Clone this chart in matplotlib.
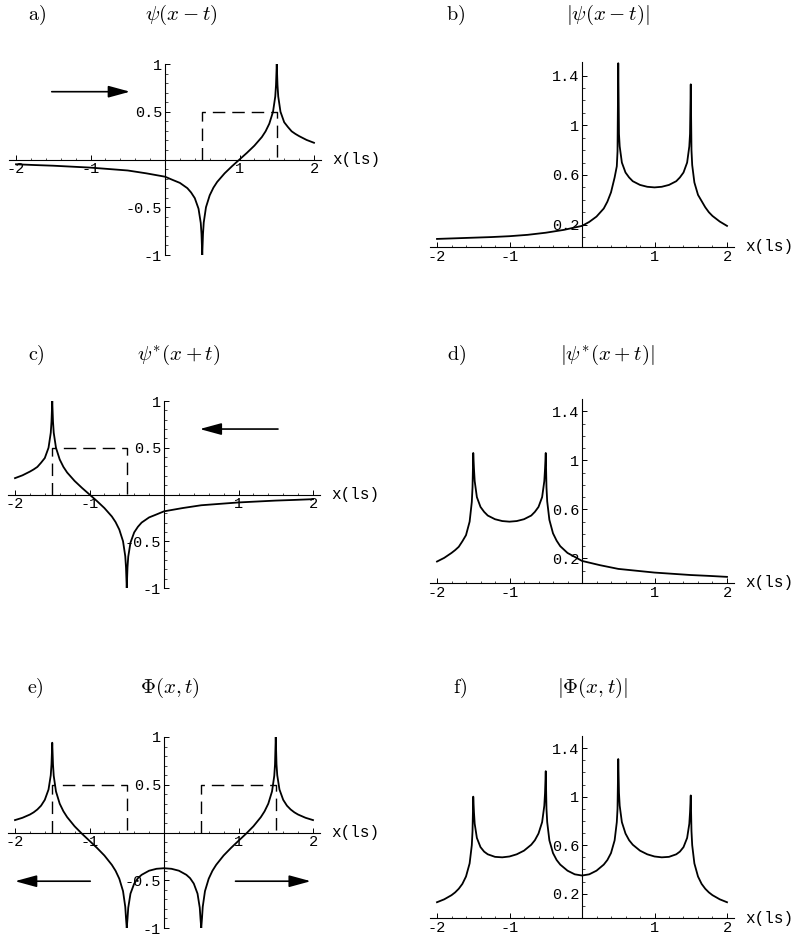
import numpy as np
import matplotlib
matplotlib.use('Agg')
import matplotlib.pyplot as plt
import matplotlib.transforms as mtransforms

plt.rcParams['font.family'] = ['Liberation Mono', 'DejaVu Sans Mono']
plt.rcParams['mathtext.fontset'] = 'cm'

# a) psi(x-t), real part
x_a = [-2.0, -1.75, -1.5, -1.25, -1.0, -0.75, -0.5, -0.25, 0.0, 0.1, 0.2, 0.3, 0.35, 0.4,
       0.45, 0.48, 0.49, 0.5, 0.51, 0.52, 0.55, 0.6, 0.65, 0.7, 0.8, 0.9, 1.0, 1.1, 1.2,
       1.3, 1.35, 1.4, 1.45, 1.48, 1.49, 1.5, 1.51, 1.52, 1.55, 1.6, 1.65, 1.7, 1.75, 1.8,
       1.9, 2.0]
y_a = [-0.05, -0.058, -0.065, -0.075, -0.085, -0.10, -0.115, -0.145, -0.18, -0.213,
       -0.245, -0.3, -0.345, -0.405, -0.515, -0.665, -0.78, -1.0, -0.78, -0.66,
       -0.5, -0.375, -0.295, -0.235, -0.145, -0.07, 0.0, 0.07, 0.145, 0.235,
       0.295, 0.375, 0.5, 0.66, 0.78, 1.0, 0.78, 0.66, 0.5, 0.39,
       0.34, 0.295, 0.268, 0.245, 0.205, 0.175]

# b) |psi(x-t)|, same x as a)
y_b = [0.085, 0.09, 0.095, 0.10, 0.107, 0.118, 0.135, 0.158, 0.19, 0.222,
       0.265, 0.33, 0.385, 0.46, 0.58, 0.67, 0.79, 1.5, 0.93, 0.83,
       0.7, 0.62, 0.58, 0.55, 0.52, 0.505, 0.5, 0.505, 0.52, 0.55,
       0.58, 0.62, 0.7, 0.83, 0.93, 1.33, 0.8, 0.68, 0.54, 0.44,
       0.39, 0.34, 0.30, 0.27, 0.225, 0.19]

# c) psi*(x+t)
x_c = [-2.0, -1.9, -1.8, -1.75, -1.7, -1.65, -1.6, -1.55, -1.52, -1.51, -1.5, -1.49,
       -1.48, -1.45, -1.4, -1.35, -1.3, -1.2, -1.1, -1.0, -0.9, -0.8, -0.7, -0.65,
       -0.6, -0.55, -0.52, -0.51, -0.5, -0.49, -0.48, -0.45, -0.4, -0.35, -0.3, -0.2,
       -0.1, 0.0, 0.25, 0.5, 0.75, 1.0, 1.25, 1.5, 1.75, 2.0]
y_c = [0.175, 0.205, 0.245, 0.268, 0.295, 0.34, 0.39, 0.5, 0.66, 0.78, 1.0, 0.78,
       0.66, 0.5, 0.375, 0.295, 0.235, 0.145, 0.07, 0.0, -0.07, -0.145, -0.235, -0.295,
       -0.375, -0.5, -0.66, -0.78, -1.0, -0.78, -0.665, -0.515, -0.405, -0.345, -0.3, -0.245,
       -0.213, -0.18, -0.145, -0.115, -0.1, -0.085, -0.075, -0.065, -0.058, -0.05]

# d) |psi*(x+t)|, same x as c)
y_d = [0.175, 0.205, 0.245, 0.268, 0.295, 0.34, 0.39, 0.5, 0.66, 0.78, 1.06, 0.93,
       0.83, 0.7, 0.62, 0.58, 0.55, 0.52, 0.505, 0.5, 0.505, 0.52, 0.55, 0.58,
       0.62, 0.7, 0.83, 0.93, 1.06, 0.78, 0.665, 0.515, 0.405, 0.345, 0.3, 0.245,
       0.213, 0.18, 0.145, 0.115, 0.1, 0.085, 0.075, 0.065, 0.058, 0.05]

# e) Phi(x,t)
x_e = [-2.0, -1.9, -1.8, -1.75, -1.7, -1.65, -1.6, -1.55, -1.52, -1.51, -1.5, -1.49,
       -1.48, -1.45, -1.4, -1.35, -1.3, -1.2, -1.1, -1.0, -0.9, -0.8, -0.7, -0.65,
       -0.6, -0.55, -0.52, -0.51, -0.5, -0.49, -0.48, -0.45, -0.4, -0.35, -0.3, -0.2,
       -0.1, 0.0,
       0.1, 0.2, 0.3, 0.35, 0.4, 0.45, 0.48, 0.49, 0.5, 0.51, 0.52, 0.55,
       0.6, 0.65, 0.7, 0.8, 0.9, 1.0, 1.1, 1.2, 1.3, 1.35, 1.4, 1.45,
       1.48, 1.49, 1.5, 1.51, 1.52, 1.55, 1.6, 1.65, 1.7, 1.75, 1.8, 1.9, 2.0]
y_e = [0.13, 0.154, 0.188, 0.211, 0.241, 0.281, 0.342, 0.45, 0.6, 0.716, 0.94, 0.712,
       0.593, 0.43, 0.302, 0.222, 0.161, 0.065, -0.014, -0.087, -0.161, -0.241, -0.339, -0.401,
       -0.484, -0.614, -0.778, -0.898, -1.0, -0.904, -0.788, -0.64, -0.535, -0.478, -0.443, -0.40,
       -0.38, -0.374,
       -0.38, -0.40, -0.443, -0.478, -0.535, -0.64, -0.788, -0.904, -1.0, -0.898, -0.778, -0.614,
       -0.484, -0.401, -0.339, -0.241, -0.161, -0.087, -0.014, 0.065, 0.161, 0.222, 0.302, 0.43,
       0.593, 0.712, 1.0, 0.716, 0.6, 0.45, 0.342, 0.281, 0.241, 0.211, 0.188, 0.154, 0.13]

# f) |Phi(x,t)|, same x as e)
y_f = [0.13, 0.154, 0.188, 0.211, 0.241, 0.281, 0.342, 0.45, 0.6, 0.716, 1.0, 0.87,
       0.776, 0.66, 0.584, 0.547, 0.525, 0.504, 0.5, 0.507, 0.525, 0.555, 0.604, 0.641,
       0.696, 0.79, 0.925, 1.03, 1.21, 0.9, 0.79, 0.64, 0.535, 0.478, 0.44, 0.39,
       0.36, 0.35,
       0.36, 0.39, 0.44, 0.478, 0.535, 0.64, 0.79, 0.9, 1.31, 1.03, 0.925, 0.79,
       0.696, 0.641, 0.604, 0.555, 0.525, 0.507, 0.5, 0.504, 0.525, 0.547, 0.584, 0.66,
       0.776, 0.87, 1.01, 0.716, 0.6, 0.45, 0.342, 0.281, 0.241, 0.211, 0.188, 0.154, 0.13]

# imaginary part (dashed boxes)
im_right_x = [0.5, 0.5, 1.5, 1.5]
im_left_x = [-1.5, -1.5, -0.5, -0.5]
im_y = [0.0, 0.5, 0.5, 0.0]

xticks = [-2, -1, 1, 2]
xtick_labels = ['-2', '-1', '1', '2']
yticks_re = [-1, -0.5, 0.5, 1]
yticks_re_labels = ['-1', '-0.5', '0.5', '1']
yticks_abs = [0.2, 0.6, 1.0, 1.4]
yticks_abs_labels = ['0.2', '0.6', '1', '1.4']

W, H = 797, 938
fig = plt.figure(figsize=(W / 100, H / 100), dpi=100)


def make_axes(x0, unit, top, bottom, ylim, real=True):
    left = x0 - 2.1 * unit
    right = x0 + 2.1 * unit
    ax = fig.add_axes([left / W, 1 - bottom / H, (right - left) / W, (bottom - top) / H])
    ax.set_xlim(-2.1, 2.1)
    ax.set_ylim(*ylim)
    ax.patch.set_visible(False)
    for s in ['top', 'right']:
        ax.spines[s].set_visible(False)
    ax.spines['left'].set_position(('data', 0))
    ax.spines['bottom'].set_position(('data', 0 if real else ylim[0]))
    for s in ['left', 'bottom']:
        ax.spines[s].set_linewidth(0.8)
    ax.set_xticks(xticks)
    ax.set_xticklabels(xtick_labels)
    ax.set_xticks(np.arange(-2, 2.01, 0.2), minor=True)
    if real:
        ax.set_yticks(yticks_re)
        ax.set_yticklabels(yticks_re_labels)
        ax.set_yticks(np.arange(-1, 1.01, 0.1), minor=True)
    else:
        ax.set_yticks(yticks_abs)
        ax.set_yticklabels(yticks_abs_labels)
        ax.set_yticks(np.arange(0.1, 1.45, 0.1), minor=True)
    ax.tick_params(which='major', direction='in', length=3.5, width=0.7, labelsize=11, pad=2)
    ax.tick_params(which='minor', direction='in', length=1.8, width=0.5)
    trans = mtransforms.blended_transform_factory(ax.transAxes, ax.transData)
    ax.text(1.035, 0 if real else ylim[0], 'x(ls)', transform=trans,
            va='center', ha='left', fontsize=11.5)
    return ax


def arrow(ax, tail, head):
    ax.annotate('', xy=head, xytext=tail,
                arrowprops=dict(arrowstyle='-|>,head_length=1.1,head_width=0.3',
                                color='black', lw=1.2, mutation_scale=12,
                                shrinkA=0, shrinkB=0))


line_kw = dict(color='black', lw=1.3)
dash_kw = dict(color='black', lw=1.0, linestyle=(0, (9, 5)))

# a)
ax = make_axes(165, 74.5, 64, 255, (-1, 1))
ax.plot(x_a, y_a, **line_kw)
ax.plot(im_right_x, im_y, **dash_kw)
arrow(ax, (-1.52, 0.71), (-0.47, 0.71))

# b)
ax = make_axes(582, 72.5, 62, 247, (0.02, 1.51), real=False)
ax.plot(x_a, y_b, **line_kw)

# c)
ax = make_axes(164, 74.5, 401, 588, (-1, 1))
ax.plot(x_c, y_c, **line_kw)
ax.plot(im_left_x, im_y, **dash_kw)
arrow(ax, (1.53, 0.70), (0.48, 0.70))

# d)
ax = make_axes(582, 72.5, 399, 583, (0, 1.5), real=False)
ax.plot(x_c, y_d, **line_kw)

# e)
ax = make_axes(164, 74.5, 737, 928, (-1, 1))
ax.plot(x_e, y_e, **line_kw)
ax.plot(im_left_x, im_y, **dash_kw)
ax.plot(im_right_x, im_y, **dash_kw)
arrow(ax, (-0.99, -0.51), (-2.0, -0.51))
arrow(ax, (0.96, -0.51), (1.97, -0.51))

# f)
ax = make_axes(582, 72.5, 736, 918, (0, 1.5), real=False)
ax.plot(x_e, y_f, **line_kw)

# panel letters and titles
letters = [(37, 15, 'a'), (456, 15, 'b'), (36, 355, 'c'), (457, 355, 'd'), (35, 688, 'e'), (460, 688, 'f')]
titles = [(181, 15, r'$\psi(x-t)$'), (608, 15, r'$|\psi(x-t)|$'),
          (179, 355, r'$\psi^{*}(x+t)$'), (607, 355, r'$|\psi^{*}(x+t)|$'),
          (170, 688, r'$\Phi(x,t)$'), (593, 688, r'$|\Phi(x,t)|$')]
for x, y, l in letters:
    fig.text(x / W, 1 - y / H, r'$\mathrm{' + l + ')}$', fontsize=14.5, ha='center', va='center')
for x, y, t in titles:
    fig.text(x / W, 1 - y / H, t, fontsize=15, ha='center', va='center')

fig.savefig('out.png', dpi=100)
